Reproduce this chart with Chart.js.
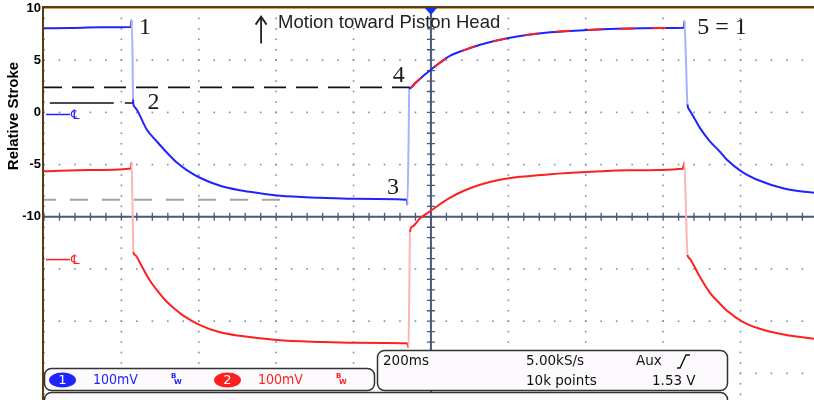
<!DOCTYPE html>
<html>
<head>
<meta charset="utf-8">
<title>Relative Stroke</title>
<script src="https://cdn.jsdelivr.net/npm/chart.js@4.4.1/dist/chart.umd.min.js"></script>
<style>
  html, body { margin: 0; padding: 0; background: #fff; }
  canvas { display: block; }
</style>
</head>
<body>
<canvas id="scope" width="814" height="400"></canvas>
<script>
// time in ms from the left edge of the screen (200 ms/div), values in relative stroke
const blueTime = [0, 67, 145, 225, 226, 229, 230, 233, 240, 266, 289, 318, 344, 370, 403, 455, 506, 558, 610, 713, 798, 938,
    939, 942, 944, 948, 959, 972, 985, 1003, 1023, 1049, 1088, 1127, 1204, 1308, 1403, 1481, 1600, 1654,
    1655, 1659, 1663, 1667, 1683, 1695, 1721, 1747, 1765, 1804, 1850, 1915, 1990];
const blueStroke = [8.05, 8.08, 8.15, 8.17, 8.85, 5.1, 1.25, 0.58, 0.25, -1.67, -2.67, -3.87, -4.83, -5.55, -6.26, -7.03, -7.46, -7.75, -7.99, -8.18, -8.28, -8.37,
    -8.85, -3.56, 2.2, 2.36, 2.79, 3.22, 3.65, 4.18, 4.75, 5.42, 5.99, 6.48, 7.15, 7.67, 7.89, 8.01, 8.08, 8.1,
    8.75, 5.1, 0.77, 0.29, -0.71, -1.48, -2.77, -3.77, -4.54, -5.69, -6.55, -7.32, -7.7];

const redTime = [0, 119, 225, 226, 229, 231, 235, 240, 248, 274, 300, 318, 339, 359, 403, 455, 506, 602, 713, 801, 938,
    942, 944, 946, 951, 972, 1003, 1023, 1049, 1088, 1127, 1178, 1230, 1308, 1403, 1514, 1651,
    1655, 1659, 1663, 1667, 1677, 1695, 1721, 1747, 1765, 1806, 1850, 1915, 1990];
const redStroke = [-5.64, -5.53, -5.38, -4.8, -9.33, -13.37, -13.65, -13.85, -14.41, -16.13, -17.4, -18.16, -18.86, -19.44, -20.37, -21.06, -21.4, -21.8, -21.99, -22.07, -22.12,
    -22.5, -17.0, -11.44, -10.96, -10.14, -9.33, -8.8, -8.18, -7.46, -6.93, -6.46, -6.17, -5.93, -5.72, -5.55, -5.4,
    -4.8, -9.33, -13.65, -13.94, -14.5, -15.75, -17.28, -18.33, -19.0, -20.06, -20.73, -21.3, -21.69];

// red trace showing over the rising part between 4 and 5
const overlayTime = [948, 959, 972, 985, 1003, 1023, 1049, 1088, 1127, 1204, 1308, 1403, 1481, 1600, 1654];
const overlayStroke = [2.36, 2.79, 3.22, 3.65, 4.18, 4.75, 5.42, 5.99, 6.48, 7.15, 7.67, 7.89, 8.01, 8.08, 8.1];

// guide lines: level 4, level 2, level 3
const guideStroke = [2.4, 0.9, -8.37];
const guideStart = [0, 15, 0];
const guideEnd = [946, 230, 641];

const markerText = ['1', '2', '3', '4', '5 = 1'];
const markerTime = [261, 283, 902, 917, 1752];
const markerStroke = [8.1, 0.9, -7.2, 3.55, 8.1];

const yTicks = [10, 5, 0, -5, -10, -15, -20, -25];
const gridTimes = [0, 200, 400, 600, 800, 1000, 1200, 1400, 1600, 1800];
const groundStroke = [-0.2, -14.1];

const BLUE = '#1f24ff';
const RED = '#ff1f1f';

function pts(xs, ys) {
    return xs.map((x, i) => ({ x: x, y: ys[i] }));
}

// fast edges are drawn faint like on the scope
function edgeColor(light) {
    return ctx => {
        const dx = Math.abs(ctx.p1.x - ctx.p0.x);
        const dy = Math.abs(ctx.p1.y - ctx.p0.y);
        return (dy > 12 && dy > 6 * dx) ? light : undefined;
    };
}

function guide(i, color, dash, offset, width) {
    return {
        data: pts([guideStart[i], guideEnd[i]], [guideStroke[i], guideStroke[i]]),
        borderColor: color,
        borderWidth: width,
        borderDash: dash,
        borderDashOffset: offset
    };
}

function box(ctx, x, y, w, h, r) {
    ctx.beginPath();
    ctx.moveTo(x + r, y);
    ctx.arcTo(x + w, y, x + w, y + h, r);
    ctx.arcTo(x + w, y + h, x, y + h, r);
    ctx.arcTo(x, y + h, x, y, r);
    ctx.arcTo(x, y, x + w, y, r);
    ctx.closePath();
    ctx.fill();
    ctx.stroke();
}

const scopeScreen = {
    id: 'scopeScreen',
    beforeDatasetsDraw(chart) {
        const { ctx, chartArea: a, scales: { x, y } } = chart;
        ctx.save();
        // dotted graticule
        ctx.fillStyle = '#7f8aa3';
        gridTimes.forEach(t => {
            const px = x.getPixelForValue(t);
            for (let v = 10; v >= -28; v -= 1) {
                const py = y.getPixelForValue(v);
                if (py <= a.bottom) ctx.fillRect(px - 0.8, py - 0.8, 1.6, 1.6);
            }
        });
        yTicks.forEach(v => {
            const py = y.getPixelForValue(v);
            for (let t = 0; t <= 2000; t += 40) {
                const px = x.getPixelForValue(t);
                if (px <= a.right) ctx.fillRect(px - 0.8, py - 0.8, 1.6, 1.6);
            }
        });
        // centre axes with minor ticks
        const cy = y.getPixelForValue(-10);
        const cx = x.getPixelForValue(1000);
        ctx.strokeStyle = '#4b5878';
        ctx.lineWidth = 2;
        ctx.beginPath();
        ctx.moveTo(a.left, cy); ctx.lineTo(a.right, cy);
        ctx.moveTo(cx, a.top); ctx.lineTo(cx, a.bottom);
        ctx.stroke();
        ctx.lineWidth = 1.3;
        ctx.beginPath();
        for (let t = 0; t <= 2000; t += 40) {
            const px = x.getPixelForValue(t);
            ctx.moveTo(px, cy - 4); ctx.lineTo(px, cy + 4);
        }
        for (let v = 10; v >= -28; v -= 1) {
            const py = y.getPixelForValue(v);
            ctx.moveTo(cx - 4, py); ctx.lineTo(cx + 4, py);
        }
        ctx.stroke();
        // ground markers
        [BLUE, RED].forEach((c, i) => {
            const py = y.getPixelForValue(groundStroke[i]);
            ctx.strokeStyle = c;
            ctx.lineWidth = 1.5;
            ctx.beginPath();
            ctx.moveTo(a.left + 2, py); ctx.lineTo(a.left + 26, py);
            ctx.stroke();
            ctx.fillStyle = c;
            ctx.font = '13px "DejaVu Sans"';
            ctx.textAlign = 'left';
            ctx.textBaseline = 'middle';
            ctx.fillText('\u2104', a.left + 27, py + 1);
        });
        ctx.restore();
    },
    afterDraw(chart) {
        const { ctx, chartArea: a, scales: { x, y } } = chart;
        ctx.save();
        // frame
        ctx.strokeStyle = '#5a3c12';
        ctx.lineWidth = 2;
        ctx.beginPath();
        ctx.moveTo(a.left - 1, a.bottom); ctx.lineTo(a.left - 1, a.top - 1); ctx.lineTo(a.right, a.top - 1);
        ctx.stroke();
        ctx.strokeStyle = '#c9a657';
        ctx.lineWidth = 1;
        ctx.beginPath();
        ctx.moveTo(a.left, a.top + 0.5); ctx.lineTo(a.right, a.top + 0.5);
        ctx.stroke();
        // trigger position
        const cx = x.getPixelForValue(1000);
        ctx.fillStyle = '#1030ff';
        ctx.beginPath();
        ctx.moveTo(cx - 6, a.top); ctx.lineTo(cx + 6, a.top); ctx.lineTo(cx, a.top + 7);
        ctx.closePath();
        ctx.fill();

        // numbered points
        ctx.fillStyle = '#1a1a1a';
        ctx.font = '24px "Liberation Serif", "Times New Roman", serif';
        ctx.textAlign = 'center';
        ctx.textBaseline = 'middle';
        markerText.forEach((s, i) => {
            ctx.fillText(s, x.getPixelForValue(markerTime[i]), y.getPixelForValue(markerStroke[i]));
        });

        // motion note with arrow
        const tx = x.getPixelForValue(605);
        const ty = y.getPixelForValue(8.6);
        ctx.font = '18.5px "Liberation Sans", Arial, sans-serif';
        ctx.textAlign = 'left';
        ctx.fillStyle = '#222';
        ctx.fillText('Motion toward Piston Head', tx, ty);
        ctx.strokeStyle = '#222';
        ctx.lineWidth = 1.8;
        ctx.beginPath();
        ctx.moveTo(tx - 17, ty + 21); ctx.lineTo(tx - 17, ty - 6);
        ctx.moveTo(tx - 22.5, ty + 2); ctx.lineTo(tx - 17, ty - 6); ctx.lineTo(tx - 11.5, ty + 2);
        ctx.stroke();

        // axis title
        ctx.save();
        ctx.translate(14, 116);
        ctx.rotate(-Math.PI / 2);
        ctx.font = 'bold 15px "Liberation Sans", Arial, sans-serif';
        ctx.textAlign = 'center';
        ctx.fillStyle = '#000';
        ctx.fillText('Relative Stroke', 0, 0);
        ctx.restore();

        // readout panels
        ctx.lineWidth = 1.5;
        ctx.strokeStyle = '#333';
        ctx.fillStyle = '#fdfafd';
        box(ctx, 44.5, 392.5, 683, 30, 7);
        ctx.fillStyle = '#fdfafd';
        box(ctx, 44.5, 368.5, 330, 22, 7);
        ctx.fillStyle = '#fdfafd';
        box(ctx, 377.5, 350.5, 350, 40, 7);

        ctx.textBaseline = 'middle';
        [[62.5, BLUE, '1', 93, 171], [227.5, RED, '2', 258, 336]].forEach(([pxc, c, n, tx1, bw]) => {
            ctx.fillStyle = c;
            ctx.beginPath();
            ctx.ellipse(pxc, 380, 13.5, 7.5, 0, 0, Math.PI * 2);
            ctx.fill();
            ctx.fillStyle = '#fff';
            ctx.font = '13px "DejaVu Sans"';
            ctx.textAlign = 'center';
            ctx.fillText(n, pxc, 380.5);
            ctx.fillStyle = c;
            ctx.textAlign = 'left';
            ctx.font = '14px "DejaVu Sans Condensed", "DejaVu Sans"';
            ctx.fillText('100mV', tx1, 380);
            ctx.font = 'bold 7px "DejaVu Sans"';
            ctx.fillText('B', bw, 376);
            ctx.fillText('W', bw + 3, 382);
        });

        ctx.fillStyle = '#111';
        ctx.font = '13.5px "DejaVu Sans"';
        ctx.textAlign = 'left';
        ctx.fillText('200ms', 383, 361);
        ctx.fillText('5.00kS/s', 526, 361);
        ctx.fillText('Aux', 636, 361);
        ctx.fillText('10k points', 526, 381);
        ctx.fillText('1.53 V', 652, 381);
        ctx.strokeStyle = '#111';
        ctx.lineWidth = 1.4;
        ctx.beginPath();
        ctx.moveTo(677, 368); ctx.lineTo(680, 368); ctx.lineTo(686, 355); ctx.lineTo(690, 355);
        ctx.stroke();
        ctx.restore();
    }
};

new Chart(document.getElementById('scope'), {
    type: 'line',
    data: {
        datasets: [
            { data: pts(overlayTime, overlayStroke), borderColor: RED, borderWidth: 2, borderDash: [14, 18],
              cubicInterpolationMode: 'monotone' },
            { data: pts(blueTime, blueStroke), borderColor: BLUE, borderWidth: 2,
              cubicInterpolationMode: 'monotone',
              segment: { borderColor: edgeColor('#a9b0ff') } },
            { data: pts(redTime, redStroke), borderColor: RED, borderWidth: 2,
              cubicInterpolationMode: 'monotone',
              segment: { borderColor: edgeColor('#ffb4b4') } },
            guide(0, '#111', [22, 10], 4, 1.6),
            guide(1, '#111', [64, 11, 9, 60], 0, 1.6),
            guide(2, '#a3a3a3', [18, 14], 6, 2)
        ]
    },
    options: {
        responsive: false,
        animation: false,
        devicePixelRatio: 1,
        parsing: false,
        layout: { padding: { top: 8, left: 0, right: 0, bottom: 0 } },
        elements: { point: { radius: 0 }, line: { fill: false } },
        plugins: { legend: { display: false }, tooltip: { enabled: false } },
        scales: {
            x: { type: 'linear', min: 0, max: 1990, display: false },
            y: {
                type: 'linear',
                min: -27.55,
                max: 10,
                position: 'left',
                afterFit: s => { s.width = 44; s.paddingTop = 0; s.paddingBottom = 0; },
                afterBuildTicks: s => { s.ticks = yTicks.map(v => ({ value: v })); },
                grid: { display: false, drawTicks: false },
                border: { display: false },
                ticks: {
                    autoSkip: false,
                    padding: 3,
                    color: '#000',
                    font: { family: '"Liberation Sans", Arial, sans-serif', size: 13, weight: 'bold' },
                    callback: v => (v >= -10 ? String(v) : '')
                }
            }
        }
    },
    plugins: [scopeScreen]
});
</script>
</body>
</html>
